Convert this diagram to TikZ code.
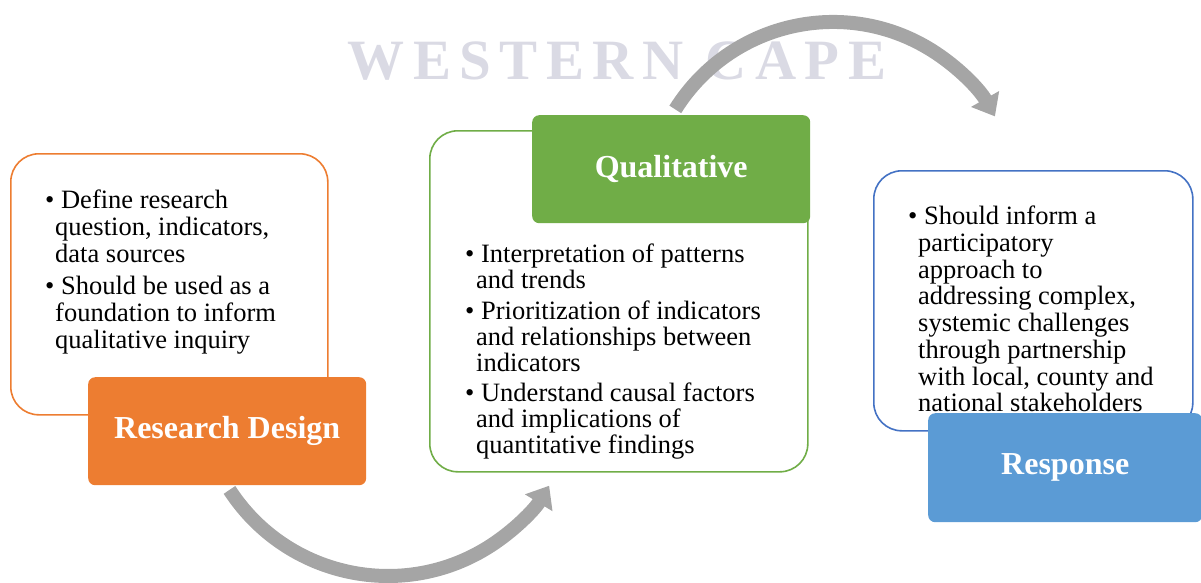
\documentclass[tikz,border=0pt]{standalone}
\usepackage{fontspec}
\setmainfont{Liberation Serif}
\usetikzlibrary{arrows.meta}
\definecolor{rdorange}{HTML}{ED7D31}
\definecolor{qlgreen}{HTML}{70AD47}
\definecolor{rsblue}{HTML}{5B9BD5}
\definecolor{rsline}{HTML}{4472C4}
\definecolor{cyclegray}{HTML}{A5A5A5}
\definecolor{wmark}{RGB}{218,218,228}
\tikzset{
  outline/.style={draw, line width=1.6pt, rounded corners=28pt, fill=white,
    anchor=north west, inner sep=0pt},
  titlebox/.style={fill, rounded corners=7pt, anchor=north west, inner sep=0pt,
    text=white, font=\bfseries\fontsize{32}{36}\selectfont},
  body/.style={align=left, inner sep=0pt, anchor=north west,
    font=\fontsize{26.5}{26.7}\selectfont},
  cyclearrow/.style={draw=cyclegray, line width=14pt,
    -{Triangle[length=20pt,width=31pt]}}
}
\begin{document}
\begin{tikzpicture}[x=1pt,y=-1pt]
\useasboundingbox (0,0) rectangle (1201,582);

% faint background lettering
\node[text=wmark, inner sep=0pt, font=\bfseries\fontsize{57}{60}\selectfont\addfontfeature{LetterSpace=14.7}]
  (wm) at (617,61) {WESTERN CAPE};

% cycle arrows
\coordinate (t1) at (229.5,489.9);
\draw[cyclearrow] (t1) arc[start angle=147, end angle=31.5, radius=189];
\coordinate (t2) at (675.3,109.4);
\draw[cyclearrow] (t2) arc[start angle=212, end angle=330.5, radius=186];

% outlined panels
\node[outline, draw=rdorange, minimum width=317pt, minimum height=261pt] (p1) at (10,153) {};
\node[outline, draw=qlgreen, minimum width=378pt, minimum height=341pt] (p2) at (429,130) {};
\node[outline, draw=rsline, minimum width=319pt, minimum height=260pt] (p3) at (873,170) {};

% panel texts
\node[body] (b1) at (45,190) {\textbullet\ Define research\\
\hspace*{10pt}question, indicators,\\
\hspace*{10pt}data sources\\[6pt]
\textbullet\ Should be used as a\\
\hspace*{10pt}foundation to inform\\
\hspace*{10pt}qualitative inquiry};

\node[body, font=\fontsize{26.5}{26}\selectfont] (b2) at (465,244) {\textbullet\ Interpretation of patterns\\
\hspace*{11pt}and trends\\[5pt]
\textbullet\ Prioritization of indicators\\
\hspace*{11pt}and relationships between\\
\hspace*{11pt}indicators\\[4pt]
\textbullet\ Understand causal factors\\
\hspace*{11pt}and implications of\\
\hspace*{11pt}quantitative findings};

\node[body] (b3) at (908,206) {\textbullet\ Should inform a\\
\hspace*{10pt}participatory\\
\hspace*{10pt}approach to\\
\hspace*{10pt}addressing complex,\\
\hspace*{10pt}systemic challenges\\
\hspace*{10pt}through partnership\\
\hspace*{10pt}with local, county and\\
\hspace*{10pt}national stakeholders};

% title tabs
\node[titlebox, fill=rdorange, minimum width=278pt, minimum height=108pt] (h1) at (88,377) {Research Design};
\node[titlebox, fill=qlgreen, minimum width=278pt, minimum height=108pt] (h2) at (532,115) {Qualitative};
\node[titlebox, fill=rsblue, minimum width=274pt, minimum height=109pt] (h3) at (928,413) {Response};
\end{tikzpicture}
\end{document}
